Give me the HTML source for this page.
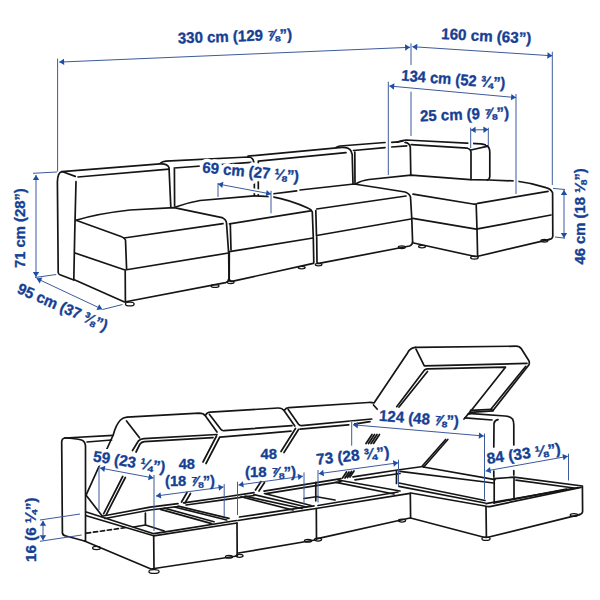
<!DOCTYPE html><html><head><meta charset="utf-8"><style>html,body{margin:0;padding:0;background:#fff;overflow:hidden}svg{display:block}</style></head><body><svg width="600" height="600" viewBox="0 0 600 600"><!-- TOP DRAWING black -->
<g fill="#fff" stroke="#151515" stroke-width="1.25"><ellipse cx="129.8" cy="304.0" rx="4.35" ry="1.95"/><ellipse cx="215.0" cy="286.0" rx="4.00" ry="1.45"/><ellipse cx="230.7" cy="282.2" rx="3.35" ry="1.35"/><ellipse cx="301.7" cy="267.6" rx="3.50" ry="1.35"/><ellipse cx="318.6" cy="264.6" rx="3.35" ry="1.35"/><ellipse cx="401.8" cy="247.2" rx="3.50" ry="1.35"/><ellipse cx="422.0" cy="246.6" rx="3.50" ry="1.35"/><ellipse cx="474.4" cy="257.6" rx="3.80" ry="1.55"/><ellipse cx="544.4" cy="240.8" rx="3.50" ry="1.35"/></g>
<g fill="none" stroke="#151515" stroke-width="1.7" stroke-linecap="round" stroke-linejoin="round">
<!-- module 1 arm/back -->
<path d="M62,171.7 Q57.6,172.6 57.4,181.7 L58.2,272.5 Q58.4,274.2 60,274.8 L73.8,280"/>
<path d="M62,171.7 L160,163.9 Q167,163.3 169,167.5 L170.8,207"/>
<path d="M62.7,171.8 L75.3,176.4"/>
<path d="M78,177 L169,169.2"/>
<path d="M76,181.7 L74.7,235 L73.8,279.5"/>
<!-- cushion 1 -->
<path d="M76,220.3 Q96.7,213.7 130,210 L174,207.6 L222,217.6 Q226,219.5 226.5,223 L228.6,252.5"/>
<path d="M76,220.3 L121,236.5 Q124.5,237.8 125.5,240 L126.6,269"/>
<path d="M124,238 L223,223.6"/>
<path d="M75,253 L125,270 L228.5,253"/>
<path d="M125.2,271 L125.4,301.8"/>
<path d="M73.8,279.5 L124.5,302 L225.6,282.6 Q228.6,281.6 229,278 L228.7,254"/>
<!-- module 2 back -->
<path d="M174.4,169 L174.6,206"/>
<path d="M160.5,163.2 Q162.5,161.4 166,161.2 L248,157 Q252,157 253.2,160 L254.2,164 L254.4,195.8"/>
<path d="M174.2,168 L251,162.4"/>
<!-- cushion 2 -->
<path d="M175.5,207 Q188,202.5 200,200.5 L254.2,195.8 L271.7,196.7 Q290,200 308.3,208.3 Q311.6,209.5 312.3,212 L313.3,238 L313.8,263"/>
<path d="M229.5,223.8 L310.5,210.8"/>
<path d="M230.3,224 L231,250"/>
<path d="M229.3,251.7 L313,238"/>
<path d="M229.3,252.5 L229.2,279 Q229.8,281.7 232,281.4 L313.3,263.3"/>
<!-- module 3 back -->
<path d="M258.3,162 L258.3,195"/>
<path d="M248,156.2 L342,147.4 Q349,147.2 351,151 L352.2,154.5 L353,184"/>
<path d="M258.3,161.2 L346,152.6"/>
<!-- cushion 3 -->
<path d="M271.7,194 L296.7,190.8"/>
<path d="M300,190 L354,184 L380,188 L405,192 Q409.5,193.5 410.5,197 L411.8,219 L412.6,242"/>
<path d="M316.7,209 L406,196"/>
<path d="M315.8,210.5 L316.5,236"/>
<path d="M316.7,235.5 L411,219"/>
<path d="M316.7,237 L317,262 Q317.4,263.8 319,263.4 L409.5,246 Q412.4,245 412.6,242"/>
<!-- module 4 back -->
<path d="M336,147.6 Q337,146.3 340,146 L385,142.5"/>
<path d="M391.7,142.3 L398,141.8 Q401,141.5 403,141"/>
<path d="M353.5,150.5 L385,147.6"/>
<path d="M391.7,147 L406.7,145.8"/>
<path d="M354.8,152 L355,183"/>
<!-- chaise backrest -->
<path d="M397,142.2 Q401,140.3 406,140 L481,143.8 Q486.6,144.4 488.6,147.2 Q489.8,149 489.8,152 L489.8,176.5 Q489.6,179.6 487,180"/>
<path d="M411.2,144.6 L467.5,148.2 Q470.6,149 471,152 L471,179.5"/>
<path d="M405,142.4 Q409.5,143 410.3,147 L410.8,175.2"/>
<path d="M471,150 L488,146.2"/>
<!-- chaise top -->
<path d="M355.5,184 Q361,180.5 369,179.5 L411,175.2 L470,179.6 L489,180 L516,181 Q532,183 546,187.6 Q551.4,189.2 552.6,193 L552.8,236 Q552.4,239.2 549.6,239.4"/>
<path d="M413,194.2 L473,204 Q476,204.6 477.6,203.4 L548,191.4"/>
<path d="M476.2,205 L477,229 L477.6,256"/>
<path d="M412.8,218.4 L476.2,229.2 L551,215"/>
<path d="M413.6,243 L473,256 Q476.6,257 479,256 L549.6,239.4"/>
</g>
<!-- BOTTOM DRAWING black -->
<g fill="#fff" stroke="#151515" stroke-width="1.25"><ellipse cx="96.5" cy="548.0" rx="3.90" ry="1.55"/><ellipse cx="154.0" cy="571.5" rx="5.10" ry="1.95"/><ellipse cx="229.0" cy="556.7" rx="3.60" ry="1.45"/><ellipse cx="239.5" cy="555.8" rx="3.60" ry="1.45"/><ellipse cx="308.0" cy="540.7" rx="3.60" ry="1.45"/><ellipse cx="318.0" cy="539.6" rx="3.60" ry="1.45"/><ellipse cx="402.0" cy="520.6" rx="3.60" ry="1.45"/><ellipse cx="486.0" cy="538.8" rx="4.10" ry="1.65"/><ellipse cx="574.0" cy="515.0" rx="3.80" ry="1.45"/></g>
<g fill="none" stroke="#151515" stroke-width="1.7" stroke-linecap="round" stroke-linejoin="round">
<!-- arm -->
<path d="M65,438 Q61.7,438.5 61.7,442 L62.4,533 Q62.8,535.6 66,536 L84.5,541"/>
<path d="M65,438 L113,435.4"/>
<path d="M65,438 Q76,438.3 81.5,440 Q85.3,441.6 85.5,446 L85.5,541"/>
<path d="M87,442 L111.5,440"/>
<!-- lid 1 -->
<path d="M86.3,494.7 L113.2,435 Q116,424.5 120.5,420 Q123,417.5 127,417.2 L199,413.2 Q203.5,413.2 205.5,416 L217,432"/>
<path d="M86.3,495.5 L102.2,516"/>
<path d="M126.5,421 L139.5,437.8"/>
<path d="M217,434.5 L144,438.6 Q140.5,438.8 138.5,440.8 L132.5,450.5"/>
<path d="M213,437.6 L144.5,441.6 Q141.5,441.9 140,444 L136,452"/>
<path d="M122.7,476.5 L103.7,513.7"/>
<path d="M125.3,477.5 L106.3,514.6"/>
<!-- lid 2 -->
<path d="M209.5,414.5 L221,429.6 Q222,430.9 224,430.7 L292,425.6"/>
<path d="M205.8,414.8 Q207,412.4 210.5,412.2 L278,408 Q282,407.8 284,410.6 L294.8,426"/>
<path d="M220,437.2 L291,431.2"/>
<path d="M216.5,436 L203,462"/>
<path d="M219.5,437.5 L206,463.5"/>
<path d="M181.5,502 L187,492.5"/>
<path d="M185,503 L190.5,493.5"/>
<!-- lid 3 -->
<path d="M288.2,409.5 L298.5,424.3 Q299.6,425.8 301.5,425.7 L371.7,419"/>
<path d="M284.6,410 Q286,407.8 289,407.6 L368.3,402.5 Q372,402.3 374,403 L407.4,353.2 Q410.2,347.6 415.5,347.4"/>
<path d="M373.5,405 L377.5,409.5"/>
<path d="M295.5,428.5 L281,451.5"/>
<path d="M298.5,429.5 L284,452.5"/>
<path d="M255.5,490 L261,481.5"/>
<path d="M259,491 L264.5,482.5"/>
<path d="M300,429.2 L351,424.6"/>
<path d="M354,424.2 L370,421.7"/>
<!-- chaise lid -->
<path d="M415.5,347.4 L516,346.2 Q519.5,346.2 521.5,349 L528.6,360.2 Q530,362.6 528.8,365 L493,410.6"/>
<path d="M525.8,366.3 L491.3,408.7"/>
<path d="M416,349.2 L424.3,365.8 L527,363.4"/>
<path d="M396.7,406.7 L424.5,370 Q426,368.8 428,368.8 L505.5,367.2 L472,409.5 L464,419"/>
<path d="M399,407 L427.5,371.5"/>
<path d="M470,412.3 L493,410.8"/>
<path d="M465,417.8 L492,420"/>
<path d="M470.5,410.3 L492,409.3"/>
<path d="M447.8,439.5 L423.8,467"/>
<path d="M445.6,439.5 L422.3,466"/>
<path d="M366,443.5 L372,434.5 M368.5,443.5 L374.5,434.5 M371,443.5 L377,434.5 M373.5,443.5 L379.5,434.5"/>
<path d="M342.5,478 L346.5,472 M345,478 L349,472 M347.5,477.5 L351.5,471.5 M350,477 L354,471"/>
<!-- chaise arm -->
<path d="M468,414.2 Q469.5,413.6 472,413.7 L505,416 Q510.5,416.4 512.5,419 Q513.8,421 513.8,425 L513.8,445"/>
<path d="M498,419.6 Q494.6,420 494,423.5 L493.8,447"/>
<path d="M493.8,471 L493.8,477"/>
<path d="M513.8,470.5 L513.8,475"/>
<!-- back rim (double) -->
<path d="M103,516 L150,507.2 L178,503.6"/>
<path d="M183.5,502.8 L225,497 L254,492.6"/>
<path d="M264,491.2 L335,479.6 L341,478.6"/>
<path d="M353,476.8 L397.5,470 L423,466.5"/>
<path d="M105,518.5 L150,510 L178,506.5"/>
<path d="M186,505 L225,499.7 L254,495.5"/>
<path d="M266,493.6 L335,482.6 L341,481.6"/>
<path d="M355,479.8 L400,473.5"/>
<!-- box fronts -->
<path d="M86.3,512 L153.7,533.7 L175,530.3 L236.5,520.5"/>
<path d="M86.3,515.7 L153.7,535.8 L237,523"/>
<path d="M238,520.5 L316,508.5 L410,493.3"/>
<path d="M239.5,517 L314,505.8"/>
<path d="M318,505.5 L398,492"/>
<path d="M84.5,541 L151,569 L237,556"/>
<path d="M238.5,553 L315,540"/>
<path d="M317.5,538.7 L410,518"/>
<path d="M153.7,535.8 L154,569"/>
<path d="M237,523 L237.2,556"/>
<path d="M316.3,508.5 L316.5,539.5"/>
<path d="M410.3,493.3 L410.6,518"/>
<!-- box 1 tray -->
<path d="M145.4,513 L145.4,525 L133.7,527"/>
<path d="M145.4,525 L164.3,531"/>
<path d="M160.5,509.4 L211.7,523.6"/>
<path d="M164.5,508.2 L214,521.8"/>
<path d="M174.5,507 L226.7,520"/>
<path d="M178.3,506.2 L229,518.3"/>
<!-- box 2 tray -->
<path d="M241,496.8 L293,510"/>
<path d="M245,496.2 L302,508.5"/>
<path d="M254,494.7 L306.5,507"/>
<path d="M264.5,493.5 L311,505.5"/>
<path d="M315.8,482.4 L315.8,500.8"/>
<path d="M304,498.5 L318,496.5"/>
<!-- box 3 tray -->
<path d="M336,482.4 L394,494"/>
<path d="M338,480 L400,491"/>
<path d="M318,497 L335,500"/>
<!-- chaise box -->
<path d="M423.3,467 L495,479.7"/>
<path d="M400,471.3 L493.5,483"/>
<path d="M494,478.6 L514,477.2 L582.4,486 L582.6,511.5 Q582.4,514 579.5,514.6"/>
<path d="M516,480.2 L574,488"/>
<path d="M399,483 L485,500.5"/>
<path d="M399,486.3 L485,503"/>
<path d="M494,503 L566.5,489"/>
<path d="M486,503.6 L578,487.6"/>
<path d="M410.8,493 L485,506 Q488,507 491,506.3 L581,487.4"/>
<path d="M410.6,518 L483,537 Q486,537.8 489,537 L579.5,514.6"/>
<path d="M486,506.5 L486.4,537"/>
<path d="M494.2,479.5 L494.2,503"/>
<path d="M514,477.5 L514,498.5"/>
<path d="M396.5,471.5 L396.5,483.5"/>
<!-- dashed hidden -->
<path d="M86.5,533.2 L125,527.7" stroke-dasharray="4.2,2.8"/>
</g>
<g font-family="Liberation Sans, sans-serif" font-weight="bold" font-size="15.5" fill="#fff" stroke="#fff" stroke-width="7" stroke-linejoin="round"><text x="178.00" y="43.40" transform="rotate(-1.9 178.00 43.40)" textLength="114.40" lengthAdjust="spacingAndGlyphs">330 cm (129 ⅞”)</text><text x="441.00" y="38.90" transform="rotate(3 441.00 38.90)" textLength="90.20" lengthAdjust="spacingAndGlyphs">160 cm (63”)</text><text x="401.00" y="80.60" transform="rotate(4.3 401.00 80.60)" textLength="104.20" lengthAdjust="spacingAndGlyphs">134 cm (52 ¾”)</text><text x="420.30" y="121.30" transform="rotate(-2.2 420.30 121.30)" textLength="89.00" lengthAdjust="spacingAndGlyphs">25 cm (9 ⅞”)</text><text x="202.00" y="172.40" transform="rotate(5.5 202.00 172.40)" textLength="97.00" lengthAdjust="spacingAndGlyphs">69 cm (27 ⅛”)</text><text x="25.00" y="268.00" transform="rotate(-90 25.00 268.00)" textLength="79.80" lengthAdjust="spacingAndGlyphs">71 cm (28”)</text><text x="585.10" y="264.50" transform="rotate(-90 585.10 264.50)" textLength="96.30" lengthAdjust="spacingAndGlyphs">46 cm (18 ⅛”)</text><text x="16.20" y="292.60" transform="rotate(23.5 16.20 292.60)" textLength="96.80" lengthAdjust="spacingAndGlyphs">95 cm (37 ⅜”)</text><text x="92.50" y="461.25" transform="rotate(9 92.50 461.25)" textLength="72.90" lengthAdjust="spacingAndGlyphs">59 (23 ¼”)</text><text x="178.75" y="469.00" textLength="16.25" lengthAdjust="spacingAndGlyphs">48</text><text x="165.00" y="486.00" textLength="50.00" lengthAdjust="spacingAndGlyphs">(18 ⅞”)</text><text x="260.50" y="458.75" textLength="16.50" lengthAdjust="spacingAndGlyphs">48</text><text x="245.00" y="477.00" textLength="51.00" lengthAdjust="spacingAndGlyphs">(18 ⅞”)</text><text x="316.75" y="464.75" transform="rotate(-6 316.75 464.75)" textLength="73.40" lengthAdjust="spacingAndGlyphs">73 (28 ¾”)</text><text x="378.80" y="420.80" transform="rotate(4.3 378.80 420.80)" textLength="80.00" lengthAdjust="spacingAndGlyphs">124 (48 ⅞”)</text><text x="487.50" y="464.00" transform="rotate(-8 487.50 464.00)" textLength="74.50" lengthAdjust="spacingAndGlyphs">84 (33 ⅛”)</text><text x="35.80" y="562.00" transform="rotate(-90 35.80 562.00)" textLength="64.50" lengthAdjust="spacingAndGlyphs">16 (6 ¼”)</text></g><g stroke="#fff" stroke-width="4.6" fill="none" stroke-linecap="butt"><line x1="59.20" y1="62.10" x2="410.00" y2="47.30"/><line x1="412.30" y1="46.70" x2="552.30" y2="55.80"/><line x1="389.30" y1="86.00" x2="516.00" y2="97.60"/><line x1="470.70" y1="130.00" x2="488.30" y2="129.60"/><line x1="218.00" y1="184.00" x2="271.00" y2="194.00"/><line x1="36.00" y1="175.00" x2="36.00" y2="277.00"/><line x1="36.60" y1="278.40" x2="102.30" y2="309.30"/><line x1="564.00" y1="190.00" x2="564.00" y2="238.00"/><line x1="57.60" y1="58.70" x2="57.60" y2="171.50"/><line x1="411.00" y1="43.30" x2="411.00" y2="65.00"/><line x1="411.00" y1="91.70" x2="411.00" y2="136.00"/><line x1="552.30" y1="51.70" x2="552.30" y2="185.00"/><line x1="388.30" y1="81.70" x2="388.30" y2="175.00"/><line x1="516.00" y1="94.00" x2="516.00" y2="194.00"/><line x1="470.70" y1="127.70" x2="470.70" y2="148.00"/><line x1="488.30" y1="127.70" x2="488.30" y2="145.00"/><line x1="218.00" y1="183.00" x2="218.00" y2="197.00"/><line x1="271.00" y1="190.80" x2="271.00" y2="213.30"/><line x1="33.00" y1="173.30" x2="57.00" y2="172.00"/><line x1="35.00" y1="277.50" x2="56.25" y2="274.50"/><line x1="102.50" y1="309.50" x2="122.50" y2="304.50"/><line x1="553.00" y1="188.40" x2="565.00" y2="189.50"/><line x1="555.00" y1="237.00" x2="565.00" y2="238.20"/><line x1="351.70" y1="421.70" x2="351.70" y2="445.70"/></g><g stroke="#3d5a9c" stroke-width="1.0" fill="none" stroke-linecap="butt"><line x1="59.20" y1="62.10" x2="410.00" y2="47.30"/><line x1="412.30" y1="46.70" x2="552.30" y2="55.80"/><line x1="389.30" y1="86.00" x2="516.00" y2="97.60"/><line x1="470.70" y1="130.00" x2="488.30" y2="129.60"/><line x1="218.00" y1="184.00" x2="271.00" y2="194.00"/><line x1="36.00" y1="175.00" x2="36.00" y2="277.00"/><line x1="36.60" y1="278.40" x2="102.30" y2="309.30"/><line x1="564.00" y1="190.00" x2="564.00" y2="238.00"/><line x1="100.00" y1="468.00" x2="153.50" y2="478.00"/><line x1="156.00" y1="496.00" x2="223.50" y2="487.00"/><line x1="238.50" y1="485.00" x2="302.90" y2="476.20"/><line x1="318.75" y1="473.70" x2="398.20" y2="462.80"/><line x1="353.00" y1="424.80" x2="483.80" y2="436.00"/><line x1="485.70" y1="471.00" x2="567.80" y2="456.30"/><line x1="43.00" y1="520.80" x2="43.00" y2="540.20"/><line x1="57.60" y1="58.70" x2="57.60" y2="171.50"/><line x1="411.00" y1="43.30" x2="411.00" y2="65.00"/><line x1="411.00" y1="91.70" x2="411.00" y2="136.00"/><line x1="552.30" y1="51.70" x2="552.30" y2="185.00"/><line x1="388.30" y1="81.70" x2="388.30" y2="175.00"/><line x1="516.00" y1="94.00" x2="516.00" y2="194.00"/><line x1="470.70" y1="127.70" x2="470.70" y2="148.00"/><line x1="488.30" y1="127.70" x2="488.30" y2="145.00"/><line x1="218.00" y1="183.00" x2="218.00" y2="197.00"/><line x1="271.00" y1="190.80" x2="271.00" y2="213.30"/><line x1="33.00" y1="173.30" x2="57.00" y2="172.00"/><line x1="35.00" y1="277.50" x2="56.25" y2="274.50"/><line x1="102.50" y1="309.50" x2="122.50" y2="304.50"/><line x1="553.00" y1="188.40" x2="565.00" y2="189.50"/><line x1="555.00" y1="237.00" x2="565.00" y2="238.20"/><line x1="99.00" y1="466.00" x2="99.00" y2="510.00"/><line x1="154.00" y1="475.00" x2="154.00" y2="531.00"/><line x1="224.20" y1="484.00" x2="224.20" y2="516.70"/><line x1="237.50" y1="481.70" x2="237.50" y2="515.00"/><line x1="304.00" y1="472.40" x2="304.00" y2="503.70"/><line x1="318.00" y1="470.00" x2="318.00" y2="502.50"/><line x1="398.50" y1="459.70" x2="398.50" y2="486.00"/><line x1="351.70" y1="421.70" x2="351.70" y2="445.70"/><line x1="484.50" y1="433.50" x2="484.50" y2="499.00"/><line x1="568.50" y1="453.70" x2="568.50" y2="480.50"/><line x1="40.00" y1="520.00" x2="80.00" y2="514.00"/><line x1="40.00" y1="541.30" x2="81.70" y2="535.00"/></g><g fill="#1d4ea6"><polygon points="59.20,62.10 63.96,58.70 64.23,65.09"/><polygon points="410.00,47.30 405.24,50.70 404.97,44.31"/><polygon points="412.30,46.70 417.40,43.82 416.98,50.21"/><polygon points="552.30,55.80 547.20,58.68 547.62,52.29"/><polygon points="389.30,86.00 394.47,83.26 393.89,89.63"/><polygon points="516.00,97.60 510.83,100.34 511.41,93.97"/><polygon points="470.70,130.00 475.53,126.69 475.67,133.09"/><polygon points="488.30,129.60 483.47,132.91 483.33,126.51"/><polygon points="218.00,184.00 223.41,181.76 222.22,188.05"/><polygon points="271.00,194.00 265.59,196.24 266.78,189.95"/><polygon points="36.00,175.00 39.20,179.90 32.80,179.90"/><polygon points="36.00,277.00 32.80,272.10 39.20,272.10"/><polygon points="36.60,278.40 42.40,277.59 39.67,283.38"/><polygon points="102.30,309.30 96.50,310.11 99.23,304.32"/><polygon points="564.00,190.00 567.20,194.90 560.80,194.90"/><polygon points="564.00,238.00 560.80,233.10 567.20,233.10"/><polygon points="100.00,468.00 105.40,465.75 104.23,472.05"/><polygon points="153.50,478.00 148.10,480.25 149.27,473.95"/><polygon points="156.00,496.00 160.43,492.18 161.28,498.52"/><polygon points="223.50,487.00 219.07,490.82 218.22,484.48"/><polygon points="238.50,485.00 242.92,481.17 243.79,487.51"/><polygon points="302.90,476.20 298.48,480.03 297.61,473.69"/><polygon points="318.75,473.70 323.17,469.86 324.04,476.20"/><polygon points="398.20,462.80 393.78,466.64 392.91,460.30"/><polygon points="353.00,424.80 358.16,422.03 357.61,428.41"/><polygon points="483.80,436.00 478.64,438.77 479.19,432.39"/><polygon points="485.70,471.00 489.96,466.99 491.09,473.29"/><polygon points="567.80,456.30 563.54,460.31 562.41,454.01"/><polygon points="43.00,520.80 46.20,525.70 39.80,525.70"/><polygon points="43.00,540.20 39.80,535.30 46.20,535.30"/></g><g font-family="Liberation Sans, sans-serif" font-weight="bold" font-size="15.5" fill="#163f93" stroke="#163f93" stroke-width="0.35" stroke-linejoin="round"><text x="178.00" y="43.40" transform="rotate(-1.9 178.00 43.40)" textLength="114.40" lengthAdjust="spacingAndGlyphs">330 cm (129 ⅞”)</text><text x="441.00" y="38.90" transform="rotate(3 441.00 38.90)" textLength="90.20" lengthAdjust="spacingAndGlyphs">160 cm (63”)</text><text x="401.00" y="80.60" transform="rotate(4.3 401.00 80.60)" textLength="104.20" lengthAdjust="spacingAndGlyphs">134 cm (52 ¾”)</text><text x="420.30" y="121.30" transform="rotate(-2.2 420.30 121.30)" textLength="89.00" lengthAdjust="spacingAndGlyphs">25 cm (9 ⅞”)</text><text x="202.00" y="172.40" transform="rotate(5.5 202.00 172.40)" textLength="97.00" lengthAdjust="spacingAndGlyphs">69 cm (27 ⅛”)</text><text x="25.00" y="268.00" transform="rotate(-90 25.00 268.00)" textLength="79.80" lengthAdjust="spacingAndGlyphs">71 cm (28”)</text><text x="585.10" y="264.50" transform="rotate(-90 585.10 264.50)" textLength="96.30" lengthAdjust="spacingAndGlyphs">46 cm (18 ⅛”)</text><text x="16.20" y="292.60" transform="rotate(23.5 16.20 292.60)" textLength="96.80" lengthAdjust="spacingAndGlyphs">95 cm (37 ⅜”)</text><text x="92.50" y="461.25" transform="rotate(9 92.50 461.25)" textLength="72.90" lengthAdjust="spacingAndGlyphs">59 (23 ¼”)</text><text x="178.75" y="469.00" textLength="16.25" lengthAdjust="spacingAndGlyphs">48</text><text x="165.00" y="486.00" textLength="50.00" lengthAdjust="spacingAndGlyphs">(18 ⅞”)</text><text x="260.50" y="458.75" textLength="16.50" lengthAdjust="spacingAndGlyphs">48</text><text x="245.00" y="477.00" textLength="51.00" lengthAdjust="spacingAndGlyphs">(18 ⅞”)</text><text x="316.75" y="464.75" transform="rotate(-6 316.75 464.75)" textLength="73.40" lengthAdjust="spacingAndGlyphs">73 (28 ¾”)</text><text x="378.80" y="420.80" transform="rotate(4.3 378.80 420.80)" textLength="80.00" lengthAdjust="spacingAndGlyphs">124 (48 ⅞”)</text><text x="487.50" y="464.00" transform="rotate(-8 487.50 464.00)" textLength="74.50" lengthAdjust="spacingAndGlyphs">84 (33 ⅛”)</text><text x="35.80" y="562.00" transform="rotate(-90 35.80 562.00)" textLength="64.50" lengthAdjust="spacingAndGlyphs">16 (6 ¼”)</text></g></svg></body></html>
